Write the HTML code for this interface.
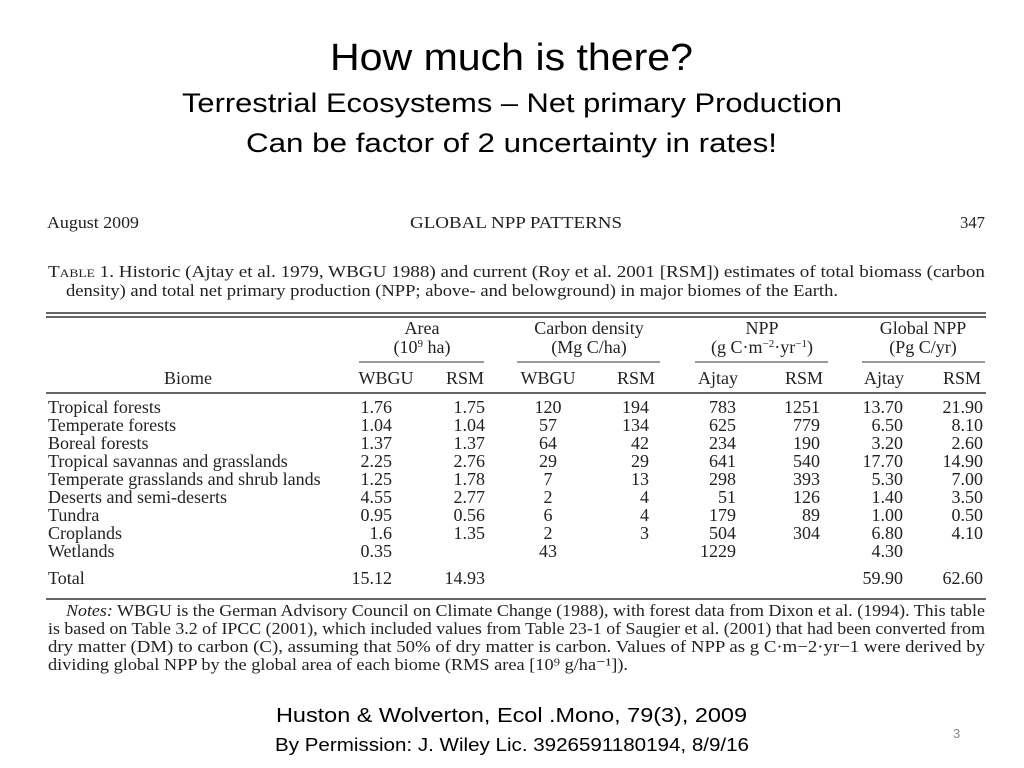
<!DOCTYPE html>
<html><head><meta charset="utf-8"><style>
body{margin:0;background:#fff;width:1024px;height:768px;overflow:hidden;position:relative;font-family:"Liberation Sans",sans-serif}
</style></head><body>
<svg width="1024" height="768" style="position:absolute;left:0;top:0" font-family="Liberation Sans, sans-serif" fill="#000">
<text x="330" y="70" font-size="38" textLength="363" lengthAdjust="spacingAndGlyphs">How much is there?</text>
<text x="182" y="112" font-size="27" textLength="660" lengthAdjust="spacingAndGlyphs">Terrestrial Ecosystems – Net primary Production</text>
<text x="246" y="152" font-size="27" textLength="531" lengthAdjust="spacingAndGlyphs">Can be factor of 2 uncertainty in rates!</text>
<text x="276" y="722" font-size="20" textLength="471" lengthAdjust="spacingAndGlyphs">Huston &amp; Wolverton, Ecol .Mono, 79(3), 2009</text>
<text x="275" y="751" font-size="18" textLength="474" lengthAdjust="spacingAndGlyphs">By Permission: J. Wiley Lic. 3926591180194, 8/9/16</text>
<text x="953" y="738" font-size="13" fill="#888">3</text>
</svg>
<svg id="tbl" width="1024" height="768" style="position:absolute;left:0;top:0" font-family="Liberation Serif, serif" font-size="17" fill="#222">
<text x="47" y="228" textLength="92" lengthAdjust="spacingAndGlyphs">August 2009</text>
<text x="410" y="228" textLength="212" lengthAdjust="spacingAndGlyphs">GLOBAL NPP PATTERNS</text>
<text x="960" y="228" textLength="25" lengthAdjust="spacingAndGlyphs">347</text>
<text x="48" y="277" textLength="937" lengthAdjust="spacingAndGlyphs">T<tspan font-size="12">ABLE</tspan> 1.   Historic (Ajtay et al. 1979, WBGU 1988) and current (Roy et al. 2001 [RSM]) estimates of total biomass (carbon</text>
<text x="66" y="296" textLength="772" lengthAdjust="spacingAndGlyphs">density) and total net primary production (NPP; above- and belowground) in major biomes of the Earth.</text>
<g stroke="#333">
<line x1="46" x2="986" y1="313" y2="313" stroke-width="1.5"/>
<line x1="46" x2="986" y1="317" y2="317" stroke-width="1.5"/>
<line x1="46" x2="986" y1="393" y2="393" stroke-width="1.5"/>
<line x1="46" x2="986" y1="599" y2="599" stroke-width="1.5"/>
<line x1="359" x2="484" y1="362" y2="362"/>
<line x1="517" x2="660" y1="362" y2="362"/>
<line x1="695" x2="828" y1="362" y2="362"/>
<line x1="862" x2="985" y1="362" y2="362"/>
</g>
<g text-anchor="middle" font-size="18">
<text x="422" y="334">Area</text><text x="422" y="353">(10<tspan font-size="11" dy="-6">9</tspan><tspan dy="6"> ha)</tspan></text>
<text x="589" y="334">Carbon density</text><text x="589" y="353">(Mg C/ha)</text>
<text x="762" y="334">NPP</text><text x="762" y="353">(g C·m<tspan font-size="11" dy="-6">−2</tspan><tspan dy="6">·yr</tspan><tspan font-size="11" dy="-6">−1</tspan><tspan dy="6">)</tspan></text>
<text x="923" y="334">Global NPP</text><text x="923" y="353">(Pg C/yr)</text>
<text x="188" y="384">Biome</text>
<text x="386" y="384">WBGU</text><text x="465" y="384">RSM</text>
<text x="548" y="384">WBGU</text><text x="636" y="384">RSM</text>
<text x="718" y="384">Ajtay</text><text x="804" y="384">RSM</text>
<text x="884" y="384">Ajtay</text><text x="962" y="384">RSM</text>
</g>
<g id="rows" font-size="18"></g>
<text x="66" y="616" textLength="919" lengthAdjust="spacingAndGlyphs"><tspan font-style="italic">Notes:</tspan> WBGU is the German Advisory Council on Climate Change (1988), with forest data from Dixon et al. (1994). This table</text>
<text x="48" y="634" textLength="937" lengthAdjust="spacingAndGlyphs">is based on Table 3.2 of IPCC (2001), which included values from Table 23-1 of Saugier et al. (2001) that had been converted from</text>
<text x="48" y="652" textLength="937" lengthAdjust="spacingAndGlyphs">dry matter (DM) to carbon (C), assuming that 50% of dry matter is carbon. Values of NPP as g C·m−2·yr−1 were derived by</text>
<text x="48" y="670" textLength="580" lengthAdjust="spacingAndGlyphs">dividing global NPP by the global area of each biome (RMS area [10⁹ g/ha⁻¹]).</text>
</svg>
<script>
const biomes=["Tropical forests","Temperate forests","Boreal forests","Tropical savannas and grasslands","Temperate grasslands and shrub lands","Deserts and semi-deserts","Tundra","Croplands","Wetlands","Total"];
const areaWBGU=["1.76","1.04","1.37","2.25","1.25","4.55","0.95","1.6","0.35","15.12"];
const areaRSM=["1.75","1.04","1.37","2.76","1.78","2.77","0.56","1.35","","14.93"];
const carbonWBGU=["120","57","64","29","7","2","6","2","43",""];
const carbonRSM=["194","134","42","29","13","4","4","3","",""];
const nppAjtay=["783","625","234","641","298","51","179","504","1229",""];
const nppRSM=["1251","779","190","540","393","126","89","304","",""];
const globalAjtay=["13.70","6.50","3.20","17.70","5.30","1.40","1.00","6.80","4.30","59.90"];
const globalRSM=["21.90","8.10","2.60","14.90","7.00","3.50","0.50","4.10","","62.60"];
const cols=[[areaWBGU,392,'end'],[areaRSM,485,'end'],[carbonWBGU,548,'middle'],[carbonRSM,649,'end'],[nppAjtay,736,'end'],[nppRSM,820,'end'],[globalAjtay,903,'end'],[globalRSM,983,'end']];
const NS="http://www.w3.org/2000/svg";
const g=document.getElementById('rows');
function rowY(i){return i<9?413+i*18:584;}
biomes.forEach((b,i)=>{
  const t=document.createElementNS(NS,'text');
  
  
  t.setAttribute('x',48);t.setAttribute('y',rowY(i));t.textContent=b;g.appendChild(t);
  cols.forEach(c=>{
    if(!c[0][i])return;
    const v=document.createElementNS(NS,'text');
    
    
    v.setAttribute('x',c[1]);v.setAttribute('y',rowY(i));v.setAttribute('text-anchor',c[2]);
    v.textContent=c[0][i];g.appendChild(v);
  });
});
</script>
</body></html>
